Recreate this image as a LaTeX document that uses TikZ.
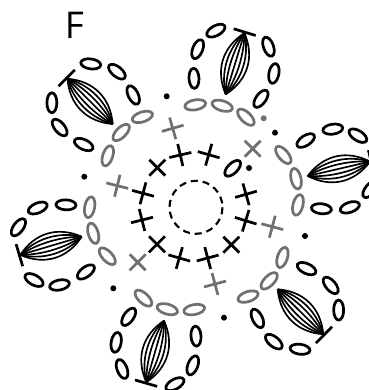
\documentclass[tikz,border=0pt]{standalone}
\usepackage{fontspec}
\setmainfont{Open Sans}
\definecolor{ringgray}{RGB}{112,112,112}
\tikzset{
  chain/.style={black, line width=1.55pt},
  ringchain/.style={ringgray, line width=1.55pt},
  fan/.style={black, line width=0.95pt},
  stitch/.pic={
    \draw[line width=1.55pt, pic actions] (-11.3,0) -- (11.3,0) (0,-11.3) -- (0,11.3);
  },
  petal/.pic={
    % fan of curves from the inner point to the bar
    \foreach \b in {-17,-11.5,-6,0,6,11.5,17}{
      \draw[fan] (0,0) .. controls (20,\b) and (44,\b) .. (64,0);
    }
    \draw[chain] (65,-11.5) -- (65,11.5);
    \foreach \a/\p/\r in {58/27/37,34/40/6,6/35/-19,58/-28/-45,35/-40/-5,6/-35/20}{
      \draw[chain, rotate around={\r:(\a,\p)}] (\a,\p) ellipse [x radius=10, y radius=5];
    }
    \foreach \a/\p/\r in {-16/26/63,-12/0/90,-19/-26/-63}{
      \draw[ringchain, rotate around={\r:(\a,\p)}] (\a,\p) ellipse [x radius=10.5, y radius=5];
    }
  },
}
\begin{document}
\begin{tikzpicture}[x=0.02cm, y=-0.02cm]
  \useasboundingbox (0,0) rectangle (369,390);
  \node[font=\fontsize{21}{21}\selectfont, inner sep=0pt] (flabel) at (74.5,25) {F};
  \draw[line width=1.2pt, dash pattern=on 4pt off 2.8pt] (196,207.3) circle (26.5);
  % six petals
  \foreach \x/\y/\t in {112.7/124/135,225.7/94.3/73,307.7/176/13,277.7/289.3/-44.6,164/320.7/-106,81.7/236.7/196.5}{
    \pic[rotate=\t] at (\x,\y) {petal};
  }
  % inner ring of stitches
  \foreach \x/\y/\t in {157.3/167.7/45,180.3/155/13,208.7/154.7/-16,246/194.3/16,245.7/220.7/-17,231.3/244.7/45,
      207.7/258/15,179.3/258/-16,157/244.3/45,142/220/14,143/193.3/-15}{
    \pic[black, rotate=\t] at (\x,\y) {stitch};
  }
  % outer ring of stitches
  \foreach \x/\y/\t in {172.7/128.3/16,117.3/185.7/-14,252.7/148.7/45,272.3/226.7/-15,215/284/15,137.7/262.3/45}{
    \pic[ringgray, rotate=\t] at (\x,\y) {stitch};
  }
  \draw[chain, rotate around={45:(232.7,168.3)}] (232.7,168.3) ellipse [x radius=10, y radius=5];
  \foreach \x/\y in {166.7/96.3,84.3/176.7,275/132.7,249/168,305/236,224/317.7,113.3/288.3}{
    \fill[black] (\x,\y) circle (3);
  }
  \fill[ringgray] (263.7,118.3) circle (3);
\end{tikzpicture}
\end{document}
